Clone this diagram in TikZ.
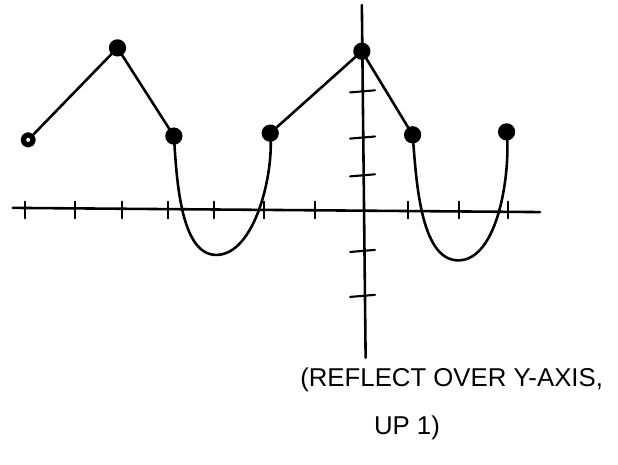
\documentclass[tikz,border=0pt]{standalone}
\usepackage{fontspec}
\setmainfont{Liberation Sans}
\usepackage{tikz}

\begin{document}
\begin{tikzpicture}[x=1.41cm, y=1.26cm, line width=2.2pt, line cap=round, line join=round]

  \tikzset{
    dot/.style={circle, fill=black, draw=black, inner sep=0pt, minimum size=0.44cm},
    opendot/.style={circle, fill=white, draw=black, line width=4.5pt, inner sep=0pt, minimum size=0.3cm},
    note/.style={font=\fontsize{22}{26}\selectfont, inner sep=0pt}
  }

  % ---- page: 618 x 464 px, origin at the axes crossing ----
  \useasboundingbox (-7.70,-6.05) rectangle (5.45,5.0);

  % ---- axes ----
  \draw (-7.43,0.05) -- (3.79,-0.05);
  \draw (0,4.88) -- (0.08,-3.52);

  % ---- x ticks (hand spaced) ----
  \foreach \xx in {-7.17,-6.1,-5.1,-4.13,-3.15,-2.09,-1.0,0.98,2.06,3.1} {
    \draw[line width=1.8pt] (\xx,0.2) -- (\xx,-0.2);
  }

  % ---- y ticks (hand spaced) ----
  \foreach \yy in {2.8,1.7,0.8,-1.0,-2.07} {
    \draw[line width=1.8pt] (-0.25,\yy) -- (0.28,\yy+0.05);
  }

  % ---- points ----
  \node[opendot] (p1) at (-7.1,1.67) {};
  \node[dot] (p2) at (-5.2,3.86) {};
  \node[dot] (p3) at (-4.0,1.76) {};
  \node[dot] (p4) at (-1.95,1.83) {};
  \node[dot] (p5) at (0,3.78) {};
  \node[dot] (p6) at (1.08,1.79) {};
  \node[dot] (p7) at (3.08,1.86) {};
  \coordinate (m1) at (-3.1,-1.07);
  \coordinate (m2) at (2.05,-1.2);

  % ---- graph ----
  \draw (p1) -- (p2) -- (p3);
  \draw (p3.center) to[out=-86, in=180, looseness=0.75] (m1)
        to[out=0, in=-84, looseness=0.75] (p4.center);
  \draw (p4) -- (p5) -- (p6);
  \draw (p6.center) to[out=-85, in=180, looseness=0.75] (m2)
        to[out=0, in=-84, looseness=0.75] (p7.center);

  % ---- note ----
  \node[note] (line1) at (1.91,-4.05) {(REFLECT OVER Y-AXIS,};
  \node[note] (line2) at (0.96,-5.19) {UP 1)};

\end{tikzpicture}
\end{document}
